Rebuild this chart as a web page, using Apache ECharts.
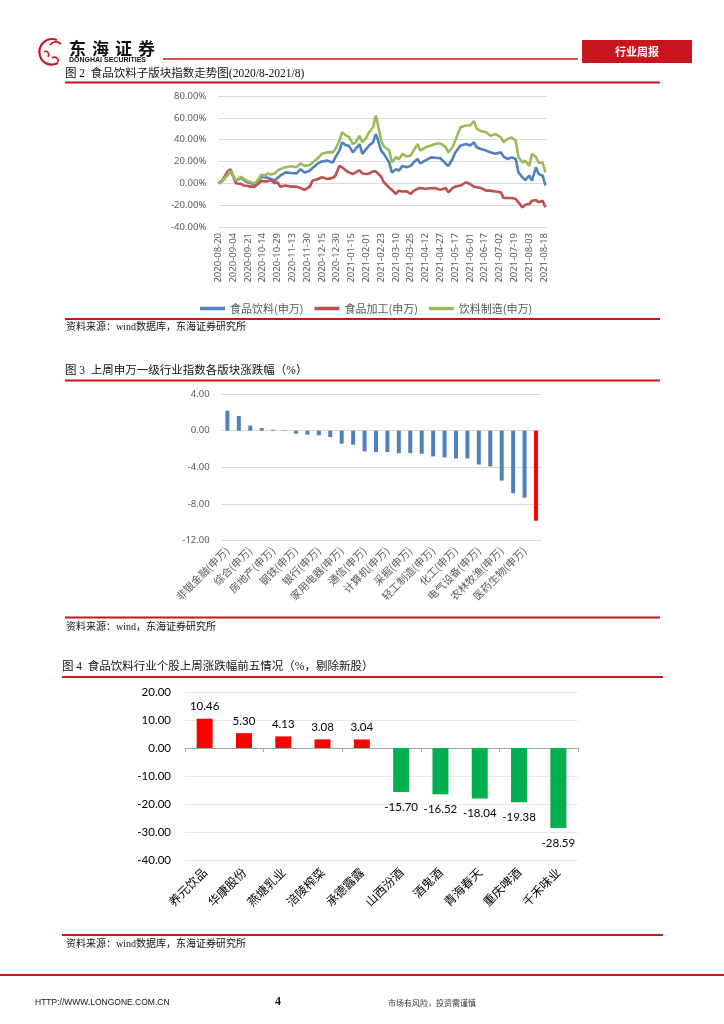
<!DOCTYPE html>
<html><head><meta charset="utf-8">
<script src="https://cdn.jsdelivr.net/npm/echarts/dist/echarts.min.js"></script>
<style>html,body{margin:0;padding:0;background:#fff}#c{width:724px;height:1024px}</style>
</head><body><div id="c"></div>
<script>
// ---------- Figure 2: index trend (trading-day index -> value %) ----------
const dateLabels = ['2020-08-20','2020-09-04','2020-09-21','2020-10-14','2020-10-29','2020-11-13','2020-11-30','2020-12-15','2020-12-30','2021-01-15','2021-02-01','2021-02-23','2021-03-10','2021-03-25','2021-04-12','2021-04-27','2021-05-17','2021-06-01','2021-06-17','2021-07-02','2021-07-19','2021-08-03','2021-08-18'];
const dayIdx = [0,3,7,9,10,13,17,19,22,24,27,29,32,34,37,39,42,44,46,50,54,58,61,64,68,70,74,77,81,85,87,90,92,95,97,100,102,105,107,110,112,115,117,118,121,123,127,129,132,134,137,140,143,145,148,150,154,158,161,165,169,171,174,176,180,184,187,190,192,195,199,202,206,210,212,215,218,221,223,226,228,231,233,236,238,241,243];
const foodBev = [0,2,8,11,10, 2.4,5,3,1,0, -0.6,2,6,5.5,5, 4,2.4,5,7,10, 9.5,9,13,10,11.6, 14,18.3,20,20.8,19, 23.8,30,37.6,34.6,34.6, 28.4,31.5,36,27,31.5, 34.6,37.6,45,42,30, 27,19,10,13,11.6, 16,14.7,16,19,22.3, 18.3,21,23.8,23.5,23, 18,16,22.3,28,34.6, 36,34.6,37.6,33,31.5, 30,28.5,27,28.4,24.5, 22.3,23.8,22.3,10,5.5, 3,7,2.4,14.7,8.5, 7,-2];
const foodProc = [0,3,11,13,10, 0,-0.6,-2,-2.5,-3, -3,-1,2.4,1.8,2, 3,0,1,-3,-2, -3,-3,-4.3,-6,-3, 2.4,4,5.5,4,5, 7,16,14.7,11.6,10, 8.5,10,12,9,8.5, 9,11,11,10,6, 1,-4,-6,-9.8,-6.7, -7.5,-7.3,-9.8,-7,-5, -4.3,-5,-4.5,-4.3,-6, -4.3,-8.3,-4.3,-3,-2, 1,-0.6,-3,-3.5,-4.3, -6.7,-6.7,-7.5,-8.3,-13.5, -13.5,-13.5,-14.4,-17.4,-22, -19.6,-19,-16,-15.3,-17.4, -16,-22];
const bevMfg = [0,2.4,8,11.6,10, 2.4,6,4,2,1, 0,2.4,8,7,9, 8,9,11.6,13,14.7, 15.6,14.7,18.3,16,16.8, 19,23,27,28.4,28.4, 31.5,39,46.8,43.7,42.8, 36,37.6,43.7,37.6,42, 46.8,51.4,62,57.5,39, 34,30,19,24,22, 27,24.5,25.4,30,36, 30,33,34.6,36,36.7, 33,28.4,33,39,51.4, 53,53,57,50,48, 46.8,43.7,45,42,37.6, 40.7,42,39,24,19, 20.8,16,27,24,19, 19,10];
const lineNames = ['食品饮料(申万)','食品加工(申万)','饮料制造(申万)'];

// ---------- Figure 3: SW level-1 industries weekly change ----------
const swCats = ['非银金融(申万)','有色金属(申万)','综合(申万)','电子(申万)','房地产(申万)','纺织服装(申万)','钢铁(申万)','公用事业(申万)','银行(申万)','交通运输(申万)','家用电器(申万)','商业贸易(申万)','通信(申万)','休闲服务(申万)','计算机(申万)','建筑材料(申万)','采掘(申万)','建筑装饰(申万)','轻工制造(申万)','国防军工(申万)','化工(申万)','传媒(申万)','电气设备(申万)','汽车(申万)','农林牧渔(申万)','机械设备(申万)','医药生物(申万)','食品饮料(申万)'];
const swVals = [2.18,1.6,0.55,0.28,0.1,0.05,-0.33,-0.44,-0.5,-0.7,-1.42,-1.53,-2.26,-2.34,-2.34,-2.45,-2.45,-2.52,-2.81,-2.92,-3.03,-3.03,-3.69,-3.9,-5.44,-6.82,-7.3,-9.82];
const swHighlight = '食品饮料(申万)';

// ---------- Figure 4: top/bottom five stocks ----------
const stockCats = ['养元饮品','华康股份','燕塘乳业','涪陵榨菜','承德露露','山西汾酒','酒鬼酒','青海春天','重庆啤酒','千禾味业'];
const stockVals = [10.46,5.30,4.13,3.08,3.04,-15.70,-16.52,-18.04,-19.38,-28.59];

// ---------- page texts ----------
const logoChars = ['东','海','证','券'];
const fig2Title = '图 2  食品饮料子版块指数走势图(2020/8-2021/8)';
const fig3Title = '图 3  上周申万一级行业指数各版块涨跌幅（%）';
const fig4Title = '图 4  食品饮料行业个股上周涨跌幅前五情况（%，剔除新股）';
const src2 = '资料来源：wind数据库，东海证券研究所';
const src3 = '资料来源：wind，东海证券研究所';
const src4 = '资料来源：wind数据库，东海证券研究所';

const chart = echarts.init(document.getElementById('c'), null, {renderer:'canvas'});
const RED = '#c4161c';
const CJK = '"Noto Sans CJK SC"';
const SER = '"Liberation Serif", "Noto Sans CJK SC"';
const NUM = '"Noto Sans", "Noto Sans CJK SC"';

function hline(x1, x2, y, w, color){
  return {type:'line', silent:true, shape:{x1:x1, y1:y, x2:x2, y2:y}, style:{stroke:color||RED, lineWidth:w||2}};
}
function txt(t, x, y, font, fill, align){
  return {type:'text', silent:true, style:{text:t, x:x, y:y, font:font, fill:fill||'#111', align:align||'left', verticalAlign:'middle'}};
}
function curve(x1,y1,c1x,c1y,c2x,c2y,x2,y2,w){
  return {type:'bezierCurve', silent:true, shape:{x1:x1,y1:y1,cpx1:c1x,cpy1:c1y,cpx2:c2x,cpy2:c2y,x2:x2,y2:y2}, style:{stroke:'#c8161e', lineWidth:w||2.2, fill:null}};
}

const graphics = [
  // logo
  curve(57,40, 46,36, 37,46, 40,56),
  curve(40,56, 42,63, 50,67, 58,63),
  curve(50,45, 53,41, 58,41, 61,44, 1.8),
  curve(44,52, 47,50, 50,53, 48,57, 1.6),
  curve(52,58, 55,56, 59,58, 58,62, 1.6),
  ...logoChars.map((c,i)=>txt(c, 69 + i*23, 49, 'bold 17px ' + CJK, '#111')),
  txt('DONGHAI SECURITIES', 69, 60.5, 'bold 7px "Liberation Sans"', '#111'),
  hline(163, 578, 59, 1.5, RED),
  {type:'rect', silent:true, shape:{x:582, y:40, width:110, height:23}, style:{fill:'#c8161e'}},
  txt('行业周报', 637, 51.5, 'bold 11px ' + CJK, '#fff', 'center'),
  // figure 2
  txt(fig2Title, 65, 74, '11.5px ' + SER, '#111'),
  hline(65, 660, 82.5, 2),
  hline(65, 660, 319, 2),
  txt(src2, 66, 327.5, '10px ' + SER, '#111'),
  // figure 3
  txt(fig3Title, 65, 370.5, '11.5px ' + SER, '#111'),
  hline(65, 660, 380.5, 2),
  hline(65, 660, 617.5, 2),
  txt(src3, 66, 627, '10px ' + SER, '#111'),
  // figure 4
  txt(fig4Title, 62, 666.5, '11.5px ' + SER, '#111'),
  hline(62, 663, 677, 2),
  hline(62, 663, 935, 2),
  txt(src4, 66, 944, '10px ' + SER, '#111'),
  // footer
  hline(0, 724, 975, 2),
  txt('HTTP://WWW.LONGONE.COM.CN', 35, 1003, '8.5px "Liberation Sans"', '#111'),
  txt('4', 275, 1002, 'bold 12px "Liberation Serif"', '#111'),
  txt('市场有风险，投资需谨慎', 388, 1003, '8px ' + CJK, '#333')
];

const option = {
  backgroundColor:'#fff',
  animation:false,
  graphic: graphics,
  legend: {
    left:195, top:298, icon:'rect', itemWidth:25, itemHeight:3.5, itemGap:11,
    data: lineNames,
    textStyle:{fontSize:11, color:'#595959', fontFamily:CJK}
  },
  grid: [
    {left:218.3, top:96, width:328.4, height:131},
    {left:221.7, top:394, width:320, height:146.7},
    {left:185, top:692, width:393, height:168}
  ],
  xAxis: [
    {gridIndex:0, type:'value', min:0, max:244, interval:11,
     axisLine:{show:true, lineStyle:{color:'#d9d9d9'}}, axisTick:{show:false}, splitLine:{show:false},
     axisLabel:{rotate:90, margin:6, fontSize:9.5, color:'#595959', fontFamily:NUM,
       formatter:(v)=> (v % 11 === 0 && dateLabels[v/11]) ? dateLabels[v/11] : ''}},
    {gridIndex:1, type:'category', data:swCats, position:'bottom',
     axisLine:{show:false, onZero:false}, axisTick:{show:false},
     axisLabel:{interval:1, rotate:45, margin:8, fontSize:10.5, color:'#595959', fontFamily:CJK}},
    {gridIndex:2, type:'category', data:stockCats, position:'bottom',
     axisLine:{show:false, onZero:false}, axisTick:{show:false},
     axisLabel:{interval:0, rotate:45, margin:10, fontSize:12, color:'#000', fontFamily:CJK}},
    {gridIndex:2, type:'category', data:stockCats, position:'bottom',
     axisLine:{show:true, onZero:true, lineStyle:{color:'#a6a6a6'}},
     axisTick:{show:true, length:4, lineStyle:{color:'#a6a6a6'}},
     axisLabel:{show:false}}
  ],
  yAxis: [
    {gridIndex:0, type:'value', min:-40, max:80, interval:20,
     axisLine:{show:false}, axisTick:{show:false},
     splitLine:{lineStyle:{color:'#d9d9d9'}},
     axisLabel:{margin:12, fontSize:9.5, color:'#595959', fontFamily:NUM, formatter:(v)=>v.toFixed(2)+'%'}},
    {gridIndex:1, type:'value', min:-12, max:4, interval:4,
     axisLine:{show:false}, axisTick:{show:false},
     splitLine:{lineStyle:{color:'#d9d9d9'}},
     axisLabel:{margin:12, fontSize:9.5, color:'#595959', fontFamily:NUM, formatter:(v)=>v.toFixed(2)}},
    {gridIndex:2, type:'value', min:-40, max:20, interval:10,
     axisLine:{show:false}, axisTick:{show:false},
     splitLine:{lineStyle:{color:'#ede9df'}},
     axisLabel:{margin:14, fontSize:11.5, color:'#000', fontFamily:'Lato', formatter:(v)=>v.toFixed(2)}}
  ],
  series: [
    {name:lineNames[0], type:'line', xAxisIndex:0, yAxisIndex:0, showSymbol:false, symbol:'none',
     lineStyle:{width:2.6, color:'#4f81bd'}, itemStyle:{color:'#4f81bd'},
     data: dayIdx.map((d,i)=>[d, foodBev[i]])},
    {name:lineNames[1], type:'line', xAxisIndex:0, yAxisIndex:0, showSymbol:false, symbol:'none',
     lineStyle:{width:2.6, color:'#c0504d'}, itemStyle:{color:'#c0504d'},
     data: dayIdx.map((d,i)=>[d, foodProc[i]])},
    {name:lineNames[2], type:'line', xAxisIndex:0, yAxisIndex:0, showSymbol:false, symbol:'none',
     lineStyle:{width:2.6, color:'#9bbb59'}, itemStyle:{color:'#9bbb59'},
     data: dayIdx.map((d,i)=>[d, bevMfg[i]])},
    {name:'申万一级', type:'bar', xAxisIndex:1, yAxisIndex:1, barWidth:4,
     itemStyle:{color:(p)=> p.name === swHighlight ? '#ff0000' : '#4f81bd'},
     data: swVals},
    {name:'个股涨跌幅', type:'bar', xAxisIndex:2, yAxisIndex:2, barWidth:16,
     itemStyle:{color:(p)=> p.value >= 0 ? '#ff0000' : '#00b050'},
     label:{show:true, fontSize:11.5, color:'#000', fontFamily:'Lato',
       formatter:(p)=>p.value.toFixed(2)},
     data: stockVals.map(v=>({value:v, label:{position: v>=0 ? 'top' : 'bottom', distance: v>=0 ? 6 : 9}}))}
  ]
};
chart.setOption(option);
</script>
</body></html>
